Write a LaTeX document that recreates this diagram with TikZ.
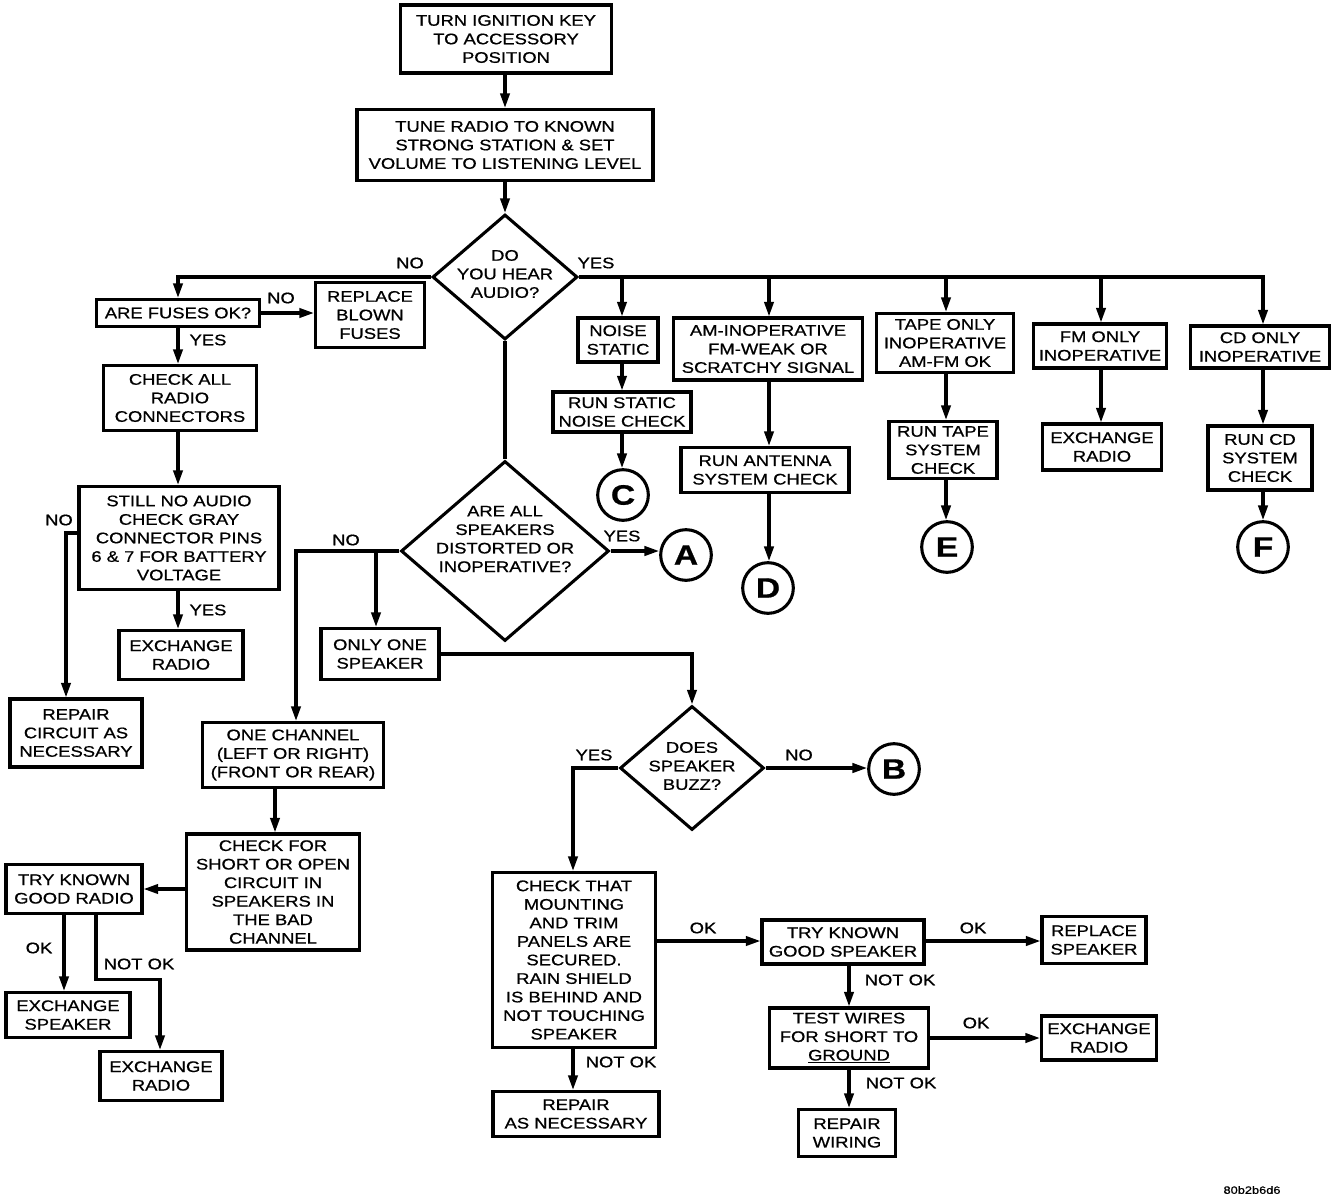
\documentclass[tikz,border=0pt]{standalone}
\usepackage{fontspec}
\setmainfont{Liberation Sans}[FakeStretch=1.2,FakeBold=0.8]
\usetikzlibrary{arrows.meta,shapes.geometric}
\begin{document}
\begin{tikzpicture}[x=0.75pt,y=-0.75pt,
 every node/.style={font=\fontsize{11.5}{13.9}\selectfont},
 bx/.style={draw, line width=2.3pt, align=center, inner sep=0pt},
 sz/.style args={#1/#2}{minimum width=0.75pt*#1, minimum height=0.75pt*#2},
 ln/.style={line width=2.3pt},
 arr/.style={line width=2.3pt, -{Triangle[length=11pt,width=7pt]}},
 circ/.style={draw, circle, line width=2.3pt, minimum size=38pt, inner sep=0pt, font=\fontsize{21}{21}\selectfont\bfseries},
 dia/.style={draw, diamond, line width=2.3pt, inner sep=0pt},
 lbl/.style={inner sep=0pt, align=center}]
\useasboundingbox (0,0) rectangle (1344,1202);

% column / row coordinates
\coordinate (xFuse) at (178,0);
\coordinate (xRep) at (66,0);
\coordinate (xNoise) at (622,0);
\coordinate (xAm) at (769,0);
\coordinate (xTape) at (946,0);
\coordinate (xFm) at (1101,0);
\coordinate (xCd) at (1263,0);
\coordinate (xOne) at (296,0);
\coordinate (xOnly) at (376,0);
\coordinate (xMount) at (573,0);
\coordinate (xSpk) at (849,0);
\coordinate (xCheck) at (275,0);
\coordinate (xOk) at (64,0);
\coordinate (xNok) at (96,0);
\coordinate (xNok2) at (160,0);
\coordinate (yNo) at (0,533);
\coordinate (yOk1) at (0,941);

% boxes
\node[bx,sz=211/68] (top) at (506,39) {TURN IGNITION KEY\\TO ACCESSORY\\POSITION};
\node[bx,sz=296/71] (tune) at (505,145) {TUNE RADIO TO KNOWN\\STRONG STATION \& SET\\VOLUME TO LISTENING LEVEL};
\node[dia,sz=145/125] (d1) at (505,277) {};
\node[lbl] (d1t) at (505,274) {DO\\YOU HEAR\\AUDIO?};

\node[bx,sz=163/27] (fuses) at (178,313) {ARE FUSES OK?};
\node[bx,sz=109/65] (replace) at (370,315) {REPLACE\\BLOWN\\FUSES};
\node[bx,sz=153/65] (checkall) at (180,398) {CHECK ALL\\RADIO\\CONNECTORS};
\node[bx,sz=200/103] (still) at (179,538) {STILL NO AUDIO\\CHECK GRAY\\CONNECTOR PINS\\6 \& 7 FOR BATTERY\\VOLTAGE};
\node[bx,sz=124/49] (exch1) at (181,655) {EXCHANGE\\RADIO};
\node[bx,sz=132/68] (repair1) at (76,733) {REPAIR\\CIRCUIT AS\\NECESSARY};

\node[bx,sz=80/44] (noise) at (618,340) {NOISE\\STATIC};
\node[bx,sz=138/40] (runstatic) at (622,412) {RUN STATIC\\NOISE CHECK};
\node[circ] (C) at (623,495) {C};
\node[bx,sz=189/62] (am) at (768,349) {AM-INOPERATIVE\\FM-WEAK OR\\SCRATCHY SIGNAL};
\node[bx,sz=168/45] (antenna) at (765,470) {RUN ANTENNA\\SYSTEM CHECK};
\node[circ] (D) at (768,588) {D};
\node[bx,sz=137/59] (tape) at (945,343) {TAPE ONLY\\INOPERATIVE\\AM-FM OK};
\node[bx,sz=108/57] (runtape) at (943,450) {RUN TAPE\\SYSTEM\\CHECK};
\node[circ] (E) at (947,547) {E};
\node[bx,sz=133/44] (fm) at (1100,346) {FM ONLY\\INOPERATIVE};
\node[bx,sz=119/46] (exch2) at (1102,447) {EXCHANGE\\RADIO};
\node[bx,sz=139/42] (cd) at (1260,347) {CD ONLY\\INOPERATIVE};
\node[bx,sz=104/64] (runcd) at (1260,458) {RUN CD\\SYSTEM\\CHECK};
\node[circ] (F) at (1263,547) {F};

\node[dia,sz=208/180] (d2) at (505,551) {};
\node[lbl] (d2t) at (505,539) {ARE ALL\\SPEAKERS\\DISTORTED OR\\INOPERATIVE?};
\node[circ] (A) at (686,555) {A};
\node[bx,sz=118/51] (only) at (380,654) {ONLY ONE\\SPEAKER};
\node[bx,sz=181/65] (onechan) at (293,755) {ONE CHANNEL\\(LEFT OR RIGHT)\\(FRONT OR REAR)};
\node[bx,sz=173/116] (checkfor) at (273,892) {CHECK FOR\\SHORT OR OPEN\\CIRCUIT IN\\SPEAKERS IN\\THE BAD\\CHANNEL};
\node[bx,sz=136/49] (tryradio) at (74,889) {TRY KNOWN\\GOOD RADIO};
\node[bx,sz=124/45] (exchspk) at (68,1015) {EXCHANGE\\SPEAKER};
\node[bx,sz=122/49] (exchradio2) at (161,1076) {EXCHANGE\\RADIO};

\node[dia,sz=144/124] (d3) at (692,768) {};
\node[lbl] (d3t) at (692,766) {DOES\\SPEAKER\\BUZZ?};
\node[circ] (B) at (894,769) {B};
\node[bx,sz=163/175] (mount) at (574,960) {CHECK THAT\\MOUNTING\\AND TRIM\\PANELS ARE\\SECURED.\\RAIN SHIELD\\IS BEHIND AND\\NOT TOUCHING\\SPEAKER};
\node[bx,sz=166/45] (repairas) at (576,1114) {REPAIR\\AS NECESSARY};
\node[bx,sz=162/44] (tryspk) at (843,942) {TRY KNOWN\\GOOD SPEAKER};
\node[bx,sz=104/47] (replspk) at (1094,940) {REPLACE\\SPEAKER};
\node[bx,sz=159/60] (testw) at (849,1038) {TEST WIRES\\FOR SHORT TO\\\underline{GROUND}};
\node[bx,sz=115/44] (exch3) at (1099,1038) {EXCHANGE\\RADIO};
\node[bx,sz=97/47] (repairw) at (847,1133) {REPAIR\\WIRING};

% labels
\node[lbl] (l1) at (410,263) {NO};
\node[lbl] (l2) at (596,263) {YES};
\node[lbl] (l3) at (281,298) {NO};
\node[lbl] (l4) at (208,340) {YES};
\node[lbl] (l5) at (59,520) {NO};
\node[lbl] (l6) at (208,610) {YES};
\node[lbl] (l7) at (346,540) {NO};
\node[lbl] (l8) at (622,536) {YES};
\node[lbl] (l9) at (594,755) {YES};
\node[lbl] (l10) at (799,755) {NO};
\node[lbl] (l11) at (703,928) {OK};
\node[lbl] (l12) at (973,928) {OK};
\node[lbl] (l13) at (900,980) {NOT OK};
\node[lbl] (l14) at (976,1023) {OK};
\node[lbl] (l15) at (901,1083) {NOT OK};
\node[lbl] (l16) at (621,1062) {NOT OK};
\node[lbl] (l17) at (39,948) {OK};
\node[lbl] (l18) at (139,964) {NOT OK};
\node[lbl,font=\fontsize{8}{9}\selectfont] (code) at (1252,1190) {80b2b6d6};

% connectors
\draw[arr] (d1.north |- top.south) -- (d1.north |- tune.north);
\draw[arr] (d1.north |- tune.south) -- (d1.north);
\draw[arr] (d1.west) -| (xFuse |- fuses.north);
\draw[arr] (fuses.east) -- (fuses.east -| replace.west);
\draw[arr] (xFuse |- fuses.south) -- (xFuse |- checkall.north);
\draw[arr] (xFuse |- checkall.south) -- (xFuse |- still.north);
\draw[arr] (xFuse |- still.south) -- (xFuse |- exch1.north);
\draw[arr] (still.west |- yNo) -| (xRep |- repair1.north);

\draw[arr] (d1.east) -| (xCd |- cd.north);
\draw[arr] (xNoise |- d1.east) -- (xNoise |- noise.north);
\draw[arr] (xAm |- d1.east) -- (xAm |- am.north);
\draw[arr] (xTape |- d1.east) -- (xTape |- tape.north);
\draw[arr] (xFm |- d1.east) -- (xFm |- fm.north);
\draw[arr] (xNoise |- noise.south) -- (xNoise |- runstatic.north);
\draw[arr] (xNoise |- runstatic.south) -- (xNoise |- C.north);
\draw[arr] (xAm |- am.south) -- (xAm |- antenna.north);
\draw[arr] (xAm |- antenna.south) -- (xAm |- D.north);
\draw[arr] (xTape |- tape.south) -- (xTape |- runtape.north);
\draw[arr] (xTape |- runtape.south) -- (xTape |- E.north);
\draw[arr] (xFm |- fm.south) -- (xFm |- exch2.north);
\draw[arr] (xCd |- cd.south) -- (xCd |- runcd.north);
\draw[arr] (xCd |- runcd.south) -- (xCd |- F.north);

\draw[ln] (d1.south) -- (d2.north);
\draw[arr] (d2.east) -- (d2.east -| A.west);
\draw[arr] (d2.west) -| (xOne |- onechan.north);
\draw[arr] (xOnly |- d2.west) -- (xOnly |- only.north);
\draw[arr] (only.east) -| (d3.north);
\draw[arr] (d3.east) -- (d3.east -| B.west);
\draw[arr] (d3.west) -| (xMount |- mount.north);
\draw[arr] (xMount |- mount.south) -- (xMount |- repairas.north);
\draw[arr] (mount.east |- yOk1) -- (tryspk.west |- yOk1);
\draw[arr] (tryspk.east |- yOk1) -- (replspk.west |- yOk1);
\draw[arr] (xSpk |- tryspk.south) -- (xSpk |- testw.north);
\draw[arr] (testw.east) -- (testw.east -| exch3.west);
\draw[arr] (xSpk |- testw.south) -- (xSpk |- repairw.north);

\draw[arr] (xCheck |- onechan.south) -- (xCheck |- checkfor.north);
\draw[arr] (checkfor.west |- tryradio.east) -- (tryradio.east);
\draw[arr] (xOk |- tryradio.south) -- (xOk |- exchspk.north);
\draw[arr] (xNok |- tryradio.south) -- ++(0,64) -| (xNok2 |- exchradio2.north);
\end{tikzpicture}
\end{document}
